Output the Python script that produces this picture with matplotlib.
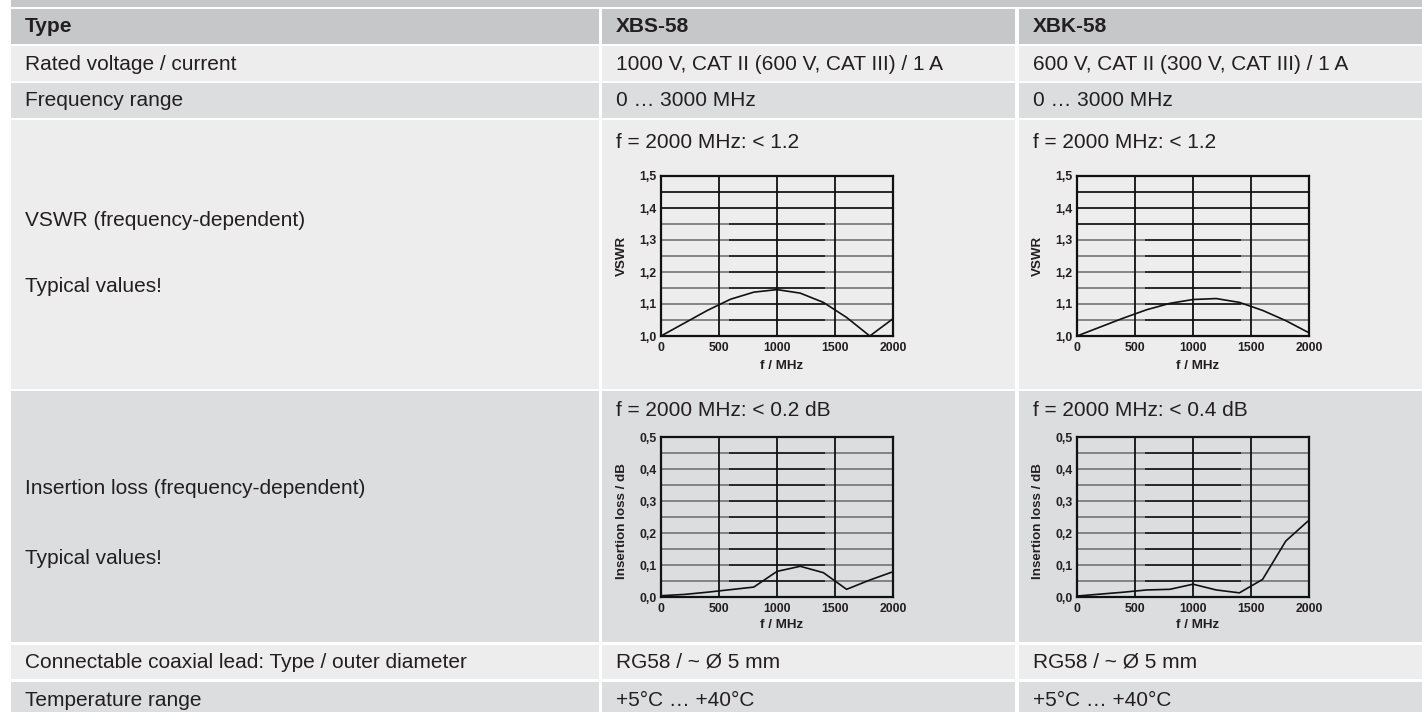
import matplotlib
matplotlib.use("Agg")
import matplotlib.pyplot as plt
from matplotlib.patches import Rectangle

plt.rcParams["font.family"] = ["Liberation Sans", "DejaVu Sans"]

# Table content
row_labels = ["Type", "Rated voltage / current", "Frequency range",
              "VSWR (frequency-dependent)", "Insertion loss (frequency-dependent)",
              "Connectable coaxial lead: Type / outer diameter", "Temperature range"]
models = ["XBS-58", "XBK-58"]
rated = ["1000 V, CAT II (600 V, CAT III) / 1 A", "600 V, CAT II (300 V, CAT III) / 1 A"]
freq_range = ["0 … 3000 MHz", "0 … 3000 MHz"]
vswr_note = ["f = 2000 MHz: < 1.2", "f = 2000 MHz: < 1.2"]
loss_note = ["f = 2000 MHz: < 0.2 dB", "f = 2000 MHz: < 0.4 dB"]
coax = ["RG58 / ~ Ø 5 mm", "RG58 / ~ Ø 5 mm"]
temp = ["+5°C … +40°C", "+5°C … +40°C"]
typical = "Typical values!"

# Curve data
freq = [0, 200, 400, 600, 800, 1000, 1200, 1400, 1600, 1800, 2000]
vswr_xbs = [1.0, 1.04, 1.08, 1.115, 1.137, 1.145, 1.134, 1.105, 1.058, 1.0, 1.054]
vswr_xbk = [1.0, 1.028, 1.056, 1.082, 1.102, 1.114, 1.117, 1.105, 1.08, 1.048, 1.01]
loss_xbs = [0.004, 0.008, 0.015, 0.023, 0.031, 0.08, 0.096, 0.076, 0.024, 0.053, 0.079]
loss_xbk = [0.003, 0.009, 0.015, 0.022, 0.024, 0.04, 0.022, 0.013, 0.055, 0.175, 0.24]

freq_ticks = [0, 500, 1000, 1500, 2000]
vswr_ticks = [1.0, 1.1, 1.2, 1.3, 1.4, 1.5]
vswr_ticklabels = ["1,0", "1,1", "1,2", "1,3", "1,4", "1,5"]
loss_ticks = [0.0, 0.1, 0.2, 0.3, 0.4, 0.5]
loss_ticklabels = ["0,0", "0,1", "0,2", "0,3", "0,4", "0,5"]
vswr_grid = [1.05, 1.1, 1.15, 1.2, 1.25, 1.3, 1.35, 1.4, 1.45]
loss_grid = [0.05, 0.1, 0.15, 0.2, 0.25, 0.3, 0.35, 0.4, 0.45]

W, H = 1422, 712
LIGHT = "#ecedec"
MID = "#dcddde"
HEAD = "#c6c7c8"
TXT = "#231f20"
FS = 15

fig = plt.figure(figsize=(W / 100, H / 100), dpi=100)
fig.patch.set_facecolor("white")

bg = fig.add_axes([0, 0, 1, 1])
bg.set_xlim(0, W)
bg.set_ylim(H, 0)
bg.axis("off")

cols = [(11, 599), (602, 1015), (1019, W)]
text_x = [25, 616, 1033]
rows = [(9, 44, HEAD), (46, 81, LIGHT), (83, 118, MID), (120, 389, LIGHT),
        (391, 642, MID), (645, 679, LIGHT), (682, 717, MID)]

# top band
bg.add_patch(Rectangle((11, 0), W - 11, 7, color=HEAD, lw=0))
for y0, y1, c in rows:
    for x0, x1 in cols:
        bg.add_patch(Rectangle((x0, y0), x1 - x0, y1 - y0, color=c, lw=0))


def put(x, y, s, bold=False):
    bg.text(x, y, s, fontsize=FS, color=TXT, ha="left", va="center",
            fontweight="bold" if bold else "normal")


# header
put(text_x[0], 27, row_labels[0], bold=True)
for i in range(2):
    put(text_x[i + 1], 27, models[i], bold=True)

# simple rows
simple = [(64, row_labels[1], rated), (100, row_labels[2], freq_range),
          (662, row_labels[5], coax), (700, row_labels[6], temp)]
for y, lab, vals in simple:
    put(text_x[0], y, lab)
    for i in range(2):
        put(text_x[i + 1], y, vals[i])

# chart rows
put(text_x[0], 220, row_labels[3])
put(text_x[0], 287, typical)
put(text_x[0], 488, row_labels[4])
put(text_x[0], 558, typical)
for i in range(2):
    put(text_x[i + 1], 143, vswr_note[i])
    put(text_x[i + 1], 410, loss_note[i])


def small_chart(x0, y0, yvals, ylim, ticks, ticklabels, grid, full_dark, ylabel, lab_y, flab_y):
    ax = fig.add_axes([x0 / W, 1 - (y0 + 160) / H, 232 / W, 160 / H])
    ax.set_facecolor("none")
    ax.set_xlim(0, 2000)
    ax.set_ylim(*ylim)
    for g in grid:
        ax.hlines(g, 0, 2000, color="#6a6a6a", lw=1.1, zorder=1)
        if any(abs(g - d) < 1e-9 for d in full_dark):
            ax.hlines(g, 0, 2000, color="#111111", lw=1.1, zorder=2)
        else:
            ax.hlines(g, 590, 1410, color="#111111", lw=1.1, zorder=2)
    ax.vlines([500, 1000, 1500], ylim[0], ylim[1], color="#111111", lw=1.3, zorder=2)
    ax.plot(freq, yvals, color="#111111", lw=1.2, zorder=3)
    for sp in ax.spines.values():
        sp.set_linewidth(1.6)
        sp.set_color("#111111")
    ax.set_xticks(freq_ticks)
    ax.set_xticklabels([str(t) for t in freq_ticks])
    ax.set_yticks(ticks)
    ax.set_yticklabels(ticklabels)
    ax.tick_params(axis="both", length=0, labelsize=8.8, colors=TXT)
    ax.tick_params(axis="y", pad=3)
    ax.tick_params(axis="x", pad=4)
    for t in ax.get_xticklabels() + ax.get_yticklabels():
        t.set_fontweight("bold")
    ax.text(-0.17, lab_y, ylabel, transform=ax.transAxes, rotation=90, ha="center",
            va="center", fontsize=9.6, fontweight="bold", color=TXT)
    ax.text(0.52, flab_y, "f / MHz", transform=ax.transAxes, ha="center",
            va="center", fontsize=9.6, fontweight="bold", color=TXT)
    return ax


small_chart(661, 176, vswr_xbs, (1.0, 1.5), vswr_ticks, vswr_ticklabels, vswr_grid,
            [1.4, 1.45], "VSWR", 0.5, -0.1875)
small_chart(1077, 176, vswr_xbk, (1.0, 1.5), vswr_ticks, vswr_ticklabels, vswr_grid,
            [1.35, 1.4, 1.45], "VSWR", 0.5, -0.1875)
small_chart(661, 437, loss_xbs, (0.0, 0.5), loss_ticks, loss_ticklabels, loss_grid,
            [], "Insertion loss / dB", 0.475, -0.175)
small_chart(1077, 437, loss_xbk, (0.0, 0.5), loss_ticks, loss_ticklabels, loss_grid,
            [], "Insertion loss / dB", 0.475, -0.175)

fig.savefig("out.png", dpi=100)
